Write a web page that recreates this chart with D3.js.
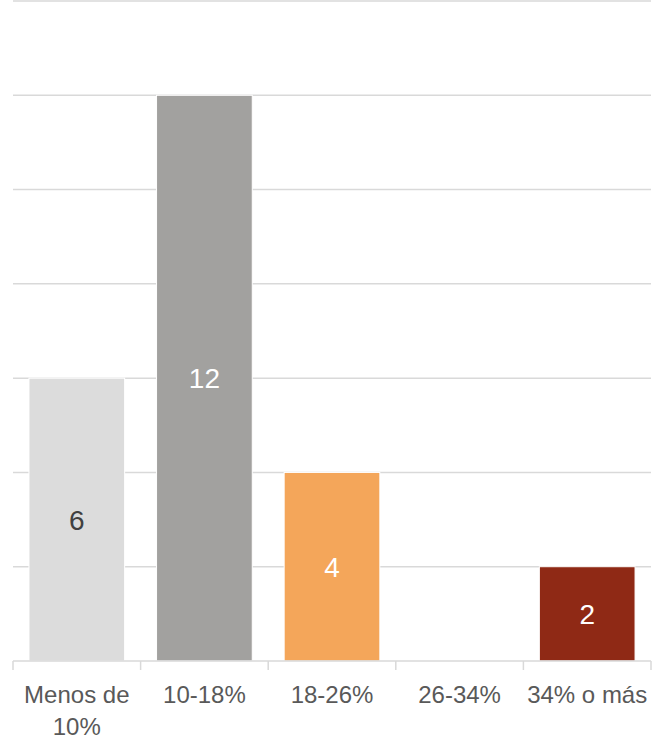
<!DOCTYPE html>
<html>
<head>
<meta charset="utf-8">
<script src="https://cdn.jsdelivr.net/npm/d3@7"></script>
<style>
  body { margin: 0; background: #fff; }
  text { font-family: "Liberation Sans", "DejaVu Sans", sans-serif; }
</style>
</head>
<body>
<svg width="657" height="741"></svg>
<script>
const categories = ['Menos de 10%', '10-18%', '18-26%', '26-34%', '34% o más'];
const values = [6, 12, 4, 0, 2];
const barColors = ['#dcdcdc', '#a2a19f', '#f4a65a', '#d9d9d9', '#8f2915'];
const labelColors = ['#404040', '#ffffff', '#ffffff', '#ffffff', '#ffffff'];
const yTicks = [0, 2, 4, 6, 8, 10, 12, 14];

const svg = d3.select('svg');
const margin = { left: 13, right: 6, top: 1, bottom: 80 };
const width = +svg.attr('width');
const height = +svg.attr('height');

const x = d3.scaleBand()
  .domain(categories)
  .range([margin.left, width - margin.right])
  .paddingInner(0.25)
  .paddingOuter(0.125);

const y = d3.scaleLinear()
  .domain([0, 14])
  .range([height - margin.bottom, margin.top]);

// gridlines
svg.append('g')
  .selectAll('line').data(yTicks.slice(1))
  .enter().append('line')
  .attr('x1', margin.left).attr('x2', width - margin.right)
  .attr('y1', d => y(d)).attr('y2', d => y(d))
  .attr('stroke', '#d9d9d9').attr('stroke-width', 1.5);

const data = categories.map((c, i) => ({ c, v: values[i], i }));

// bars
svg.append('g')
  .selectAll('rect').data(data.filter(d => d.v > 0))
  .enter().append('rect')
  .attr('x', d => x(d.c))
  .attr('y', d => y(d.v))
  .attr('width', x.bandwidth())
  .attr('height', d => y(0) - y(d.v))
  .attr('fill', d => barColors[d.i])
  .attr('stroke', '#ffffff').attr('stroke-width', 1);

// x axis
const xAxis = d3.axisBottom(x).tickSize(0).tickPadding(0);
const axisG = svg.append('g')
  .attr('transform', `translate(0, ${y(0)})`)
  .call(xAxis);
axisG.select('.domain').remove();
axisG.selectAll('.tick text').remove();

axisG.append('line')
  .attr('x1', margin.left).attr('x2', width - margin.right)
  .attr('stroke', '#d9d9d9').attr('stroke-width', 1.5);

const step = x.step();
const edges = d3.range(categories.length + 1)
  .map(k => k === 0 ? margin.left : x(categories[k - 1]) + x.bandwidth() + step * x.paddingInner() / 2);
edges[categories.length] = width - margin.right;
axisG.selectAll('.edge').data(edges)
  .enter().append('line')
  .attr('class', 'edge')
  .attr('x1', d => d).attr('x2', d => d)
  .attr('y1', 0).attr('y2', 9)
  .attr('stroke', '#d9d9d9').attr('stroke-width', 1.5);

// category labels
const catLines = { 'Menos de 10%': ['Menos de', '10%'] };
axisG.selectAll('.cat').data(categories)
  .enter().append('text')
  .attr('class', 'cat')
  .attr('x', d => x(d) + x.bandwidth() / 2)
  .attr('y', 42)
  .attr('text-anchor', 'middle')
  .attr('fill', '#595959')
  .style('font-size', '24px')
  .each(function(d) {
    const lines = catLines[d] || [d];
    d3.select(this).selectAll('tspan').data(lines)
      .enter().append('tspan')
      .attr('x', x(d) + x.bandwidth() / 2)
      .attr('dy', (l, j) => j === 0 ? 0 : 32)
      .text(l => l);
  });

// value labels
svg.append('g')
  .selectAll('text').data(data.filter(d => d.v > 0))
  .enter().append('text')
  .attr('x', d => x(d.c) + x.bandwidth() / 2)
  .attr('y', d => (y(d.v) + y(0)) / 2)
  .attr('dy', '0.36em')
  .attr('text-anchor', 'middle')
  .attr('fill', d => labelColors[d.i])
  .style('font-size', '28px')
  .text(d => d.v);
</script>
</body>
</html>
